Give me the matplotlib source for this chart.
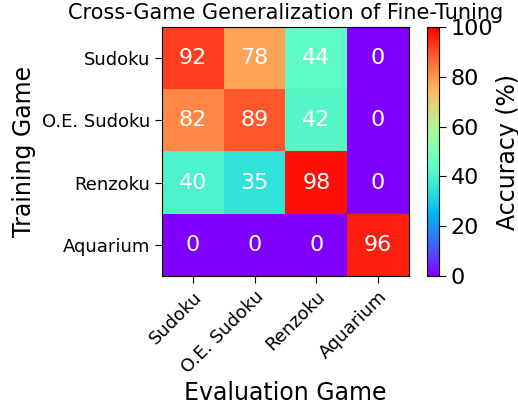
import matplotlib
matplotlib.use("Agg")
import matplotlib.pyplot as plt
import numpy as np

games = ["Sudoku", "O.E. Sudoku", "Renzoku", "Aquarium"]
row_sudoku = [92, 78, 44, 0]
row_oe_sudoku = [82, 89, 42, 0]
row_renzoku = [40, 35, 98, 0]
row_aquarium = [0, 0, 0, 96]
cbar_ticks = [0, 20, 40, 60, 80, 100]

data = np.array([row_sudoku, row_oe_sudoku, row_renzoku, row_aquarium])

fig = plt.figure(figsize=(5.18, 4.07), dpi=100)
W, H = 518, 407
ax = fig.add_axes([162 / W, 1 - 276 / H, 247 / W, 249 / H])
cax = fig.add_axes([427 / W, 1 - 276 / H, 12 / W, 249 / H])

im = ax.imshow(data, cmap="rainbow", vmin=0, vmax=100, aspect="auto")
for i in range(data.shape[0]):
    for j in range(data.shape[1]):
        ax.text(j, i, f"{data[i, j]}", ha="center", va="center", color="white", fontsize=16)

ax.set_xticks(range(len(games)))
ax.set_xticklabels(games, rotation=45, ha="right", rotation_mode="anchor", fontsize=13)
ax.set_yticks(range(len(games)))
ax.set_yticklabels(games, fontsize=13)
ax.tick_params(length=5)
ax.set_xlabel("Evaluation Game", fontsize=17, labelpad=3)
ax.set_ylabel("Training Game", fontsize=17, labelpad=4)
ax.set_title("Cross-Game Generalization of Fine-Tuning", fontsize=15, pad=6)

cb = fig.colorbar(im, cax=cax)
cb.set_ticks(cbar_ticks)
cb.ax.tick_params(labelsize=16, length=5)
cb.set_label("Accuracy (%)", fontsize=17, labelpad=1.5)

fig.savefig("out.png", dpi=100)
